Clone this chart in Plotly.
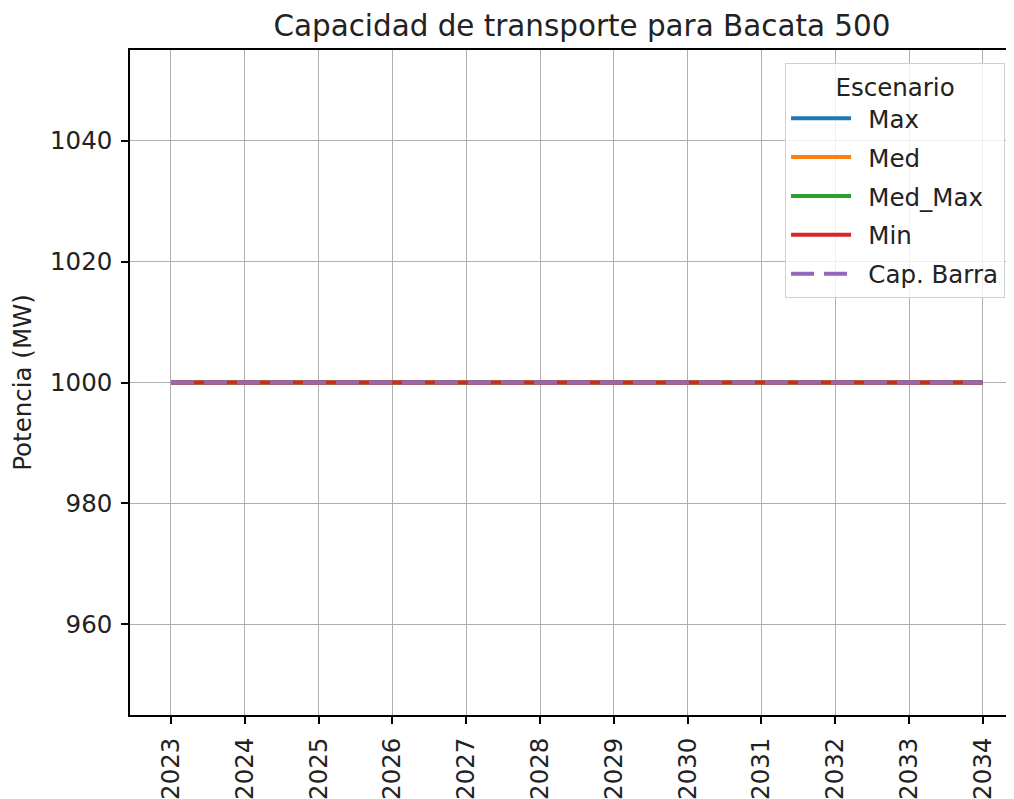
import plotly.graph_objects as go

years = [2023, 2024, 2025, 2026, 2027, 2028, 2029, 2030, 2031, 2032, 2033, 2034]
max_vals = [1000, 1000, 1000, 1000, 1000, 1000, 1000, 1000, 1000, 1000, 1000, 1000]
med_vals = [1000, 1000, 1000, 1000, 1000, 1000, 1000, 1000, 1000, 1000, 1000, 1000]
med_max_vals = [1000, 1000, 1000, 1000, 1000, 1000, 1000, 1000, 1000, 1000, 1000, 1000]
min_vals = [1000, 1000, 1000, 1000, 1000, 1000, 1000, 1000, 1000, 1000, 1000, 1000]
cap_barra = [1000, 1000, 1000, 1000, 1000, 1000, 1000, 1000, 1000, 1000, 1000, 1000]
y_ticks = [960, 980, 1000, 1020, 1040]
series_names = ["Max", "Med", "Med_Max", "Min", "Cap. Barra"]

FONT = "DejaVu Sans"
FS = 24.5
TXT = "#222222"

fig = go.Figure()
styles = [
    ("#1f77b4", "solid"),
    ("#ff7f0e", "solid"),
    ("#2ca02c", "solid"),
    ("#d62728", "solid"),
    ("#9467bd", "23px,10px"),
]
all_vals = [max_vals, med_vals, med_max_vals, min_vals, cap_barra]
for i, (name, vals, (color, dash)) in enumerate(zip(series_names, all_vals, styles)):
    fig.add_trace(go.Scatter(
        x=years, y=vals, mode="lines", name="\u2002" + name,
        line=dict(color=color, width=4, dash=dash),
        legendgroup=f"g{i}",
    ))

fig.update_layout(
    width=1014, height=791,
    margin=dict(l=122, r=0, t=42, b=84),
    paper_bgcolor="white", plot_bgcolor="white",
    font=dict(family=FONT, size=FS, color=TXT),
    title=dict(text="Capacidad de transporte para Bacata 500", x=0.566, xanchor="center",
               y=0.9775, yanchor="middle", font=dict(family=FONT, size=29.4, color=TXT)),
    showlegend=True,
    legend=dict(
        title=dict(text="Escenario", side="top center", font=dict(family=FONT, size=FS)),
        x=0.981, xanchor="right", y=0.9805, yanchor="top",
        bgcolor="rgba(255,255,255,0.8)", bordercolor="#d0d0d0", borderwidth=1,
        font=dict(family=FONT, size=FS, color=TXT),
        tracegroupgap=4, traceorder="grouped", itemwidth=60,
    ),
)
fig.update_xaxes(
    range=[2022.445, 2034.53], tickvals=years, ticktext=[str(y) for y in years],
    tickangle=-90, showgrid=True, gridcolor="#b0b0b0", gridwidth=1,
    showline=True, linecolor="black", linewidth=1.5, mirror=True,
    ticks="outside", ticklen=7, tickcolor="black", tickwidth=1.5,
    zeroline=False, tickfont=dict(family=FONT, size=FS, color=TXT),
    ticklabelstandoff=4,
)
fig.update_yaxes(
    range=[945, 1055], tickvals=y_ticks, ticktext=[str(v) for v in y_ticks],
    showgrid=True, gridcolor="#b0b0b0", gridwidth=1,
    showline=True, linecolor="black", linewidth=1.5, mirror=False,
    ticks="outside", ticklen=7, tickcolor="black", tickwidth=1.5,
    zeroline=False, tickfont=dict(family=FONT, size=FS, color=TXT),
    ticklabelstandoff=4,
    title=dict(text="Potencia (MW)", font=dict(family=FONT, size=FS, color=TXT), standoff=14),
)

fig.write_html("out.html")
